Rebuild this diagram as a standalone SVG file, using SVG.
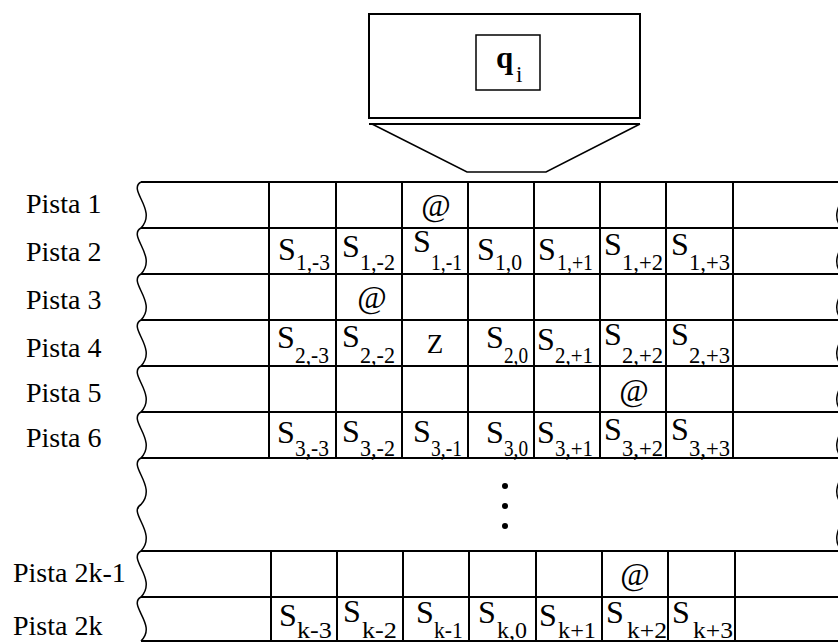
<svg xmlns="http://www.w3.org/2000/svg" width="838" height="642" viewBox="0 0 838 642">
<style>
text { font-family: "Liberation Serif", "Times New Roman", serif; fill: #000; }
.lbl { font-size: 28px; }
.s { font-size: 32px; }
.sub { font-size: 23px; }
.at { font-size: 32px; text-anchor: middle; }
.grid line { stroke: #000; stroke-width: 2; }
.wave { fill: none; stroke: #000; stroke-width: 1.5; }
</style>
<rect width="838" height="642" fill="#fff"/>

<g id="head">
  <rect x="369" y="14" width="271" height="104" fill="none" stroke="#000" stroke-width="2"/>
  <line x1="369" y1="124" x2="640" y2="124" stroke="#000" stroke-width="2"/>
  <polyline points="372,124 467,172 546,172 640,124" fill="none" stroke="#000" stroke-width="1.5"/>
  <g id="state">
    <rect x="476" y="35" width="64" height="55" fill="none" stroke="#000" stroke-width="1.5"/>
    <text x="496" y="68" style="font-size:31px;font-weight:bold">q</text>
    <text x="516" y="82" style="font-size:23px">i</text>
  </g>
</g>

<g id="labels">
  <text class="lbl" x="26" y="213">Pista 1</text>
  <text class="lbl" x="26" y="261">Pista 2</text>
  <text class="lbl" x="26" y="309">Pista 3</text>
  <text class="lbl" x="26" y="357">Pista 4</text>
  <text class="lbl" x="26" y="402">Pista 5</text>
  <text class="lbl" x="26" y="447">Pista 6</text>
  <text class="lbl" x="13" y="582">Pista 2k-1</text>
  <text class="lbl" x="13" y="635">Pista 2k</text>
</g>

<g id="tape" class="grid">
  <line x1="141" y1="182" x2="838" y2="182"/>
  <line x1="141" y1="228" x2="838" y2="228"/>
  <line x1="141" y1="274" x2="838" y2="274"/>
  <line x1="141" y1="320" x2="838" y2="320"/>
  <line x1="141" y1="366" x2="838" y2="366"/>
  <line x1="141" y1="412" x2="838" y2="412"/>
  <line x1="141" y1="458" x2="838" y2="458"/>
  <line x1="269" y1="182" x2="269" y2="458"/>
  <line x1="336" y1="182" x2="336" y2="458"/>
  <line x1="402" y1="182" x2="402" y2="458"/>
  <line x1="468" y1="182" x2="468" y2="458"/>
  <line x1="534" y1="182" x2="534" y2="458"/>
  <line x1="600" y1="182" x2="600" y2="458"/>
  <line x1="666" y1="182" x2="666" y2="458"/>
  <line x1="733" y1="182" x2="733" y2="458"/>
  <line x1="141" y1="551" x2="838" y2="551"/>
  <line x1="141" y1="597" x2="838" y2="597"/>
  <line x1="141" y1="641" x2="838" y2="641"/>
  <line x1="271" y1="551" x2="271" y2="641"/>
  <line x1="337" y1="551" x2="337" y2="641"/>
  <line x1="403" y1="551" x2="403" y2="641"/>
  <line x1="469" y1="551" x2="469" y2="641"/>
  <line x1="536" y1="551" x2="536" y2="641"/>
  <line x1="602" y1="551" x2="602" y2="641"/>
  <line x1="668" y1="551" x2="668" y2="641"/>
  <line x1="735" y1="551" x2="735" y2="641"/>
</g>

<g id="edges">
  <path class="wave" d="M141,182 c-14,8 17,28 0,46 c-14,8 17,28 0,46 c-14,8 17,28 0,46 c-14,8 17,28 0,46 c-14,8 17,28 0,46 c-14,8 17,28 0,46 c-14,8 17,28 0,46.5 c-14,8 17,28 0,46.5 c-14,8 17,28 0,46 c-14,8 17,28 0,44"/>
  <path class="wave" d="M842,182 c14,8 -17,28 0,46 c14,8 -17,28 0,46 c14,8 -17,28 0,46 c14,8 -17,28 0,46 c14,8 -17,28 0,46 c14,8 -17,28 0,46 c14,8 -17,28 0,46.5 c14,8 -17,28 0,46.5"/>
  <path class="wave" d="M844,551 c14,8 -17,28 0,46 c14,8 -17,28 0,44" stroke-width="1"/>
</g>

<g id="row1">
  <text class="at" x="436" y="216">@</text>
</g>

<g id="row2">
  <text class="s" x="278" y="260">S</text><text class="sub" x="296" y="270" textLength="34" lengthAdjust="spacingAndGlyphs">1,-3</text>
  <text class="s" x="342" y="257">S</text><text class="sub" x="360" y="270" textLength="35" lengthAdjust="spacingAndGlyphs">1,-2</text>
  <text class="s" x="413" y="252">S</text><text class="sub" x="431" y="270" textLength="31" lengthAdjust="spacingAndGlyphs">1,-1</text>
  <text class="s" x="477" y="260">S</text><text class="sub" x="495" y="270" textLength="27" lengthAdjust="spacingAndGlyphs">1,0</text>
  <text class="s" x="538" y="260">S</text><text class="sub" x="557" y="270" textLength="36" lengthAdjust="spacingAndGlyphs">1,+1</text>
  <text class="s" x="604" y="255">S</text><text class="sub" x="622" y="270" textLength="41" lengthAdjust="spacingAndGlyphs">1,+2</text>
  <text class="s" x="671" y="255">S</text><text class="sub" x="689" y="270" textLength="41" lengthAdjust="spacingAndGlyphs">1,+3</text>
</g>

<g id="row3">
  <text class="at" x="372" y="308">@</text>
</g>

<g id="row4">
  <text class="s" x="277" y="348">S</text><text class="sub" x="295" y="363" textLength="34" lengthAdjust="spacingAndGlyphs">2,-3</text>
  <text class="s" x="342" y="347">S</text><text class="sub" x="360" y="363" textLength="35" lengthAdjust="spacingAndGlyphs">2,-2</text>
  <text style="font-size:27px;text-anchor:middle" x="435" y="353">Z</text>
  <text class="s" x="486" y="348">S</text><text class="sub" x="504" y="363" textLength="24" lengthAdjust="spacingAndGlyphs">2,0</text>
  <text class="s" x="537" y="350">S</text><text class="sub" x="555" y="363" textLength="38" lengthAdjust="spacingAndGlyphs">2,+1</text>
  <text class="s" x="604" y="345">S</text><text class="sub" x="622" y="363" textLength="41" lengthAdjust="spacingAndGlyphs">2,+2</text>
  <text class="s" x="671" y="345">S</text><text class="sub" x="689" y="363" textLength="41" lengthAdjust="spacingAndGlyphs">2,+3</text>
</g>

<g id="row5">
  <text class="at" x="634" y="401">@</text>
</g>

<g id="row6">
  <text class="s" x="277" y="443">S</text><text class="sub" x="295" y="456" textLength="34" lengthAdjust="spacingAndGlyphs">3,-3</text>
  <text class="s" x="342" y="442">S</text><text class="sub" x="360" y="456" textLength="35" lengthAdjust="spacingAndGlyphs">3,-2</text>
  <text class="s" x="413" y="442">S</text><text class="sub" x="431" y="456" textLength="31" lengthAdjust="spacingAndGlyphs">3,-1</text>
  <text class="s" x="486" y="443">S</text><text class="sub" x="504" y="456" textLength="24" lengthAdjust="spacingAndGlyphs">3,0</text>
  <text class="s" x="537" y="443">S</text><text class="sub" x="555" y="456" textLength="38" lengthAdjust="spacingAndGlyphs">3,+1</text>
  <text class="s" x="604" y="440">S</text><text class="sub" x="622" y="456" textLength="41" lengthAdjust="spacingAndGlyphs">3,+2</text>
  <text class="s" x="671" y="440">S</text><text class="sub" x="689" y="456" textLength="41" lengthAdjust="spacingAndGlyphs">3,+3</text>
</g>

<g id="ellipsis">
  <circle cx="505" cy="486" r="3"/>
  <circle cx="505" cy="506" r="3"/>
  <circle cx="505" cy="526" r="3"/>
</g>

<g id="row2k-1">
  <text class="at" x="635" y="585">@</text>
</g>

<g id="row2k">
  <text class="s" x="279" y="626">S</text><text class="sub" x="297" y="638" textLength="35" lengthAdjust="spacingAndGlyphs">k-3</text>
  <text class="s" x="343" y="622">S</text><text class="sub" x="362" y="638" textLength="35" lengthAdjust="spacingAndGlyphs">k-2</text>
  <text class="s" x="416" y="623">S</text><text class="sub" x="434" y="638" textLength="29" lengthAdjust="spacingAndGlyphs">k-1</text>
  <text class="s" x="478" y="623">S</text><text class="sub" x="497" y="638" textLength="30" lengthAdjust="spacingAndGlyphs">k,0</text>
  <text class="s" x="539" y="626">S</text><text class="sub" x="558" y="638" textLength="38" lengthAdjust="spacingAndGlyphs">k+1</text>
  <text class="s" x="606" y="623">S</text><text class="sub" x="627" y="638" textLength="40" lengthAdjust="spacingAndGlyphs">k+2</text>
  <text class="s" x="672" y="623">S</text><text class="sub" x="693" y="638" textLength="40" lengthAdjust="spacingAndGlyphs">k+3</text>
</g>
</svg>
